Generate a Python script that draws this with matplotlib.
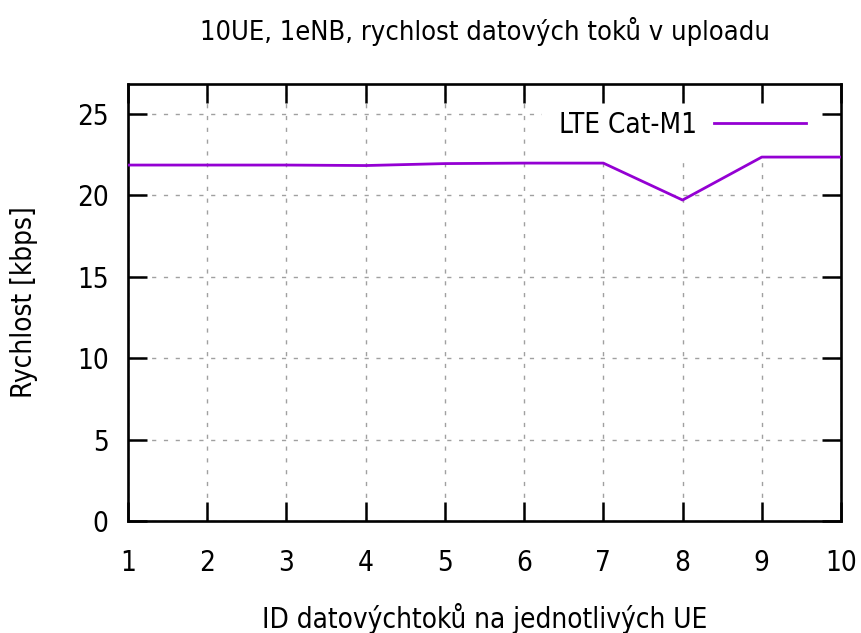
import matplotlib.pyplot as plt
import numpy as np

# data
ue_ids = [1, 2, 3, 4, 5, 6, 7, 8, 9, 10]
rychlost = [21.87, 21.87, 21.87, 21.84, 21.96, 21.99, 21.99, 19.72, 22.36, 22.36]
series_name = "LTE Cat-M1"
y_ticks = [0, 5, 10, 15, 20, 25]

plt.rcParams['font.family'] = ['DejaVu Sans']
plt.rcParams['font.stretch'] = 'condensed'

fig = plt.figure(figsize=(8.61, 6.33), dpi=100)
ax = fig.add_axes([128/861, 1-521/633, (841-128)/861, (521-84)/633])

ax.plot(ue_ids, rychlost, color='#9400d3', lw=2, label=series_name, zorder=3)

# grid drawn by hand so the legend box can sit between grid and ticks
grid_style = dict(color='#a0a0a0', linestyle=(0, (3, 5.5)), lw=1, zorder=1)
for yv in y_ticks:
    ax.axhline(yv, **grid_style)
for xv in ue_ids:
    ax.axvline(xv, **grid_style)

ax.set_xlim(1, 10)
ax.set_ylim(0, 26.85)
ax.set_xticks(ue_ids)
ax.set_yticks(y_ticks)
ax.tick_params(direction='in', length=13.5, width=1.8, top=True, right=True,
               labelsize=20)
ax.tick_params(axis='x', pad=20)
ax.tick_params(axis='y', pad=14)
for s in ax.spines.values():
    s.set_linewidth(1.9)

ax.set_title("10UE, 1eNB, rychlost datových toků v uploadu", fontsize=19.5, pad=32)
ax.set_xlabel("ID datovýchtoků na jednotlivých UE", fontsize=20, labelpad=19)
ax.set_ylabel("Rychlost [kbps]", fontsize=20, labelpad=28)

leg = ax.legend(loc='upper right', bbox_to_anchor=(0.9743, 0.9764), frameon=True,
                markerfirst=False, fontsize=20, handlelength=3.33,
                handletextpad=0.6, borderpad=0.6, borderaxespad=0,
                fancybox=False)
leg.get_frame().set_edgecolor('none')
leg.get_frame().set_facecolor('white')
leg.get_frame().set_alpha(1)
leg.set_zorder(1.2)

fig.savefig("out.png", dpi=100)
